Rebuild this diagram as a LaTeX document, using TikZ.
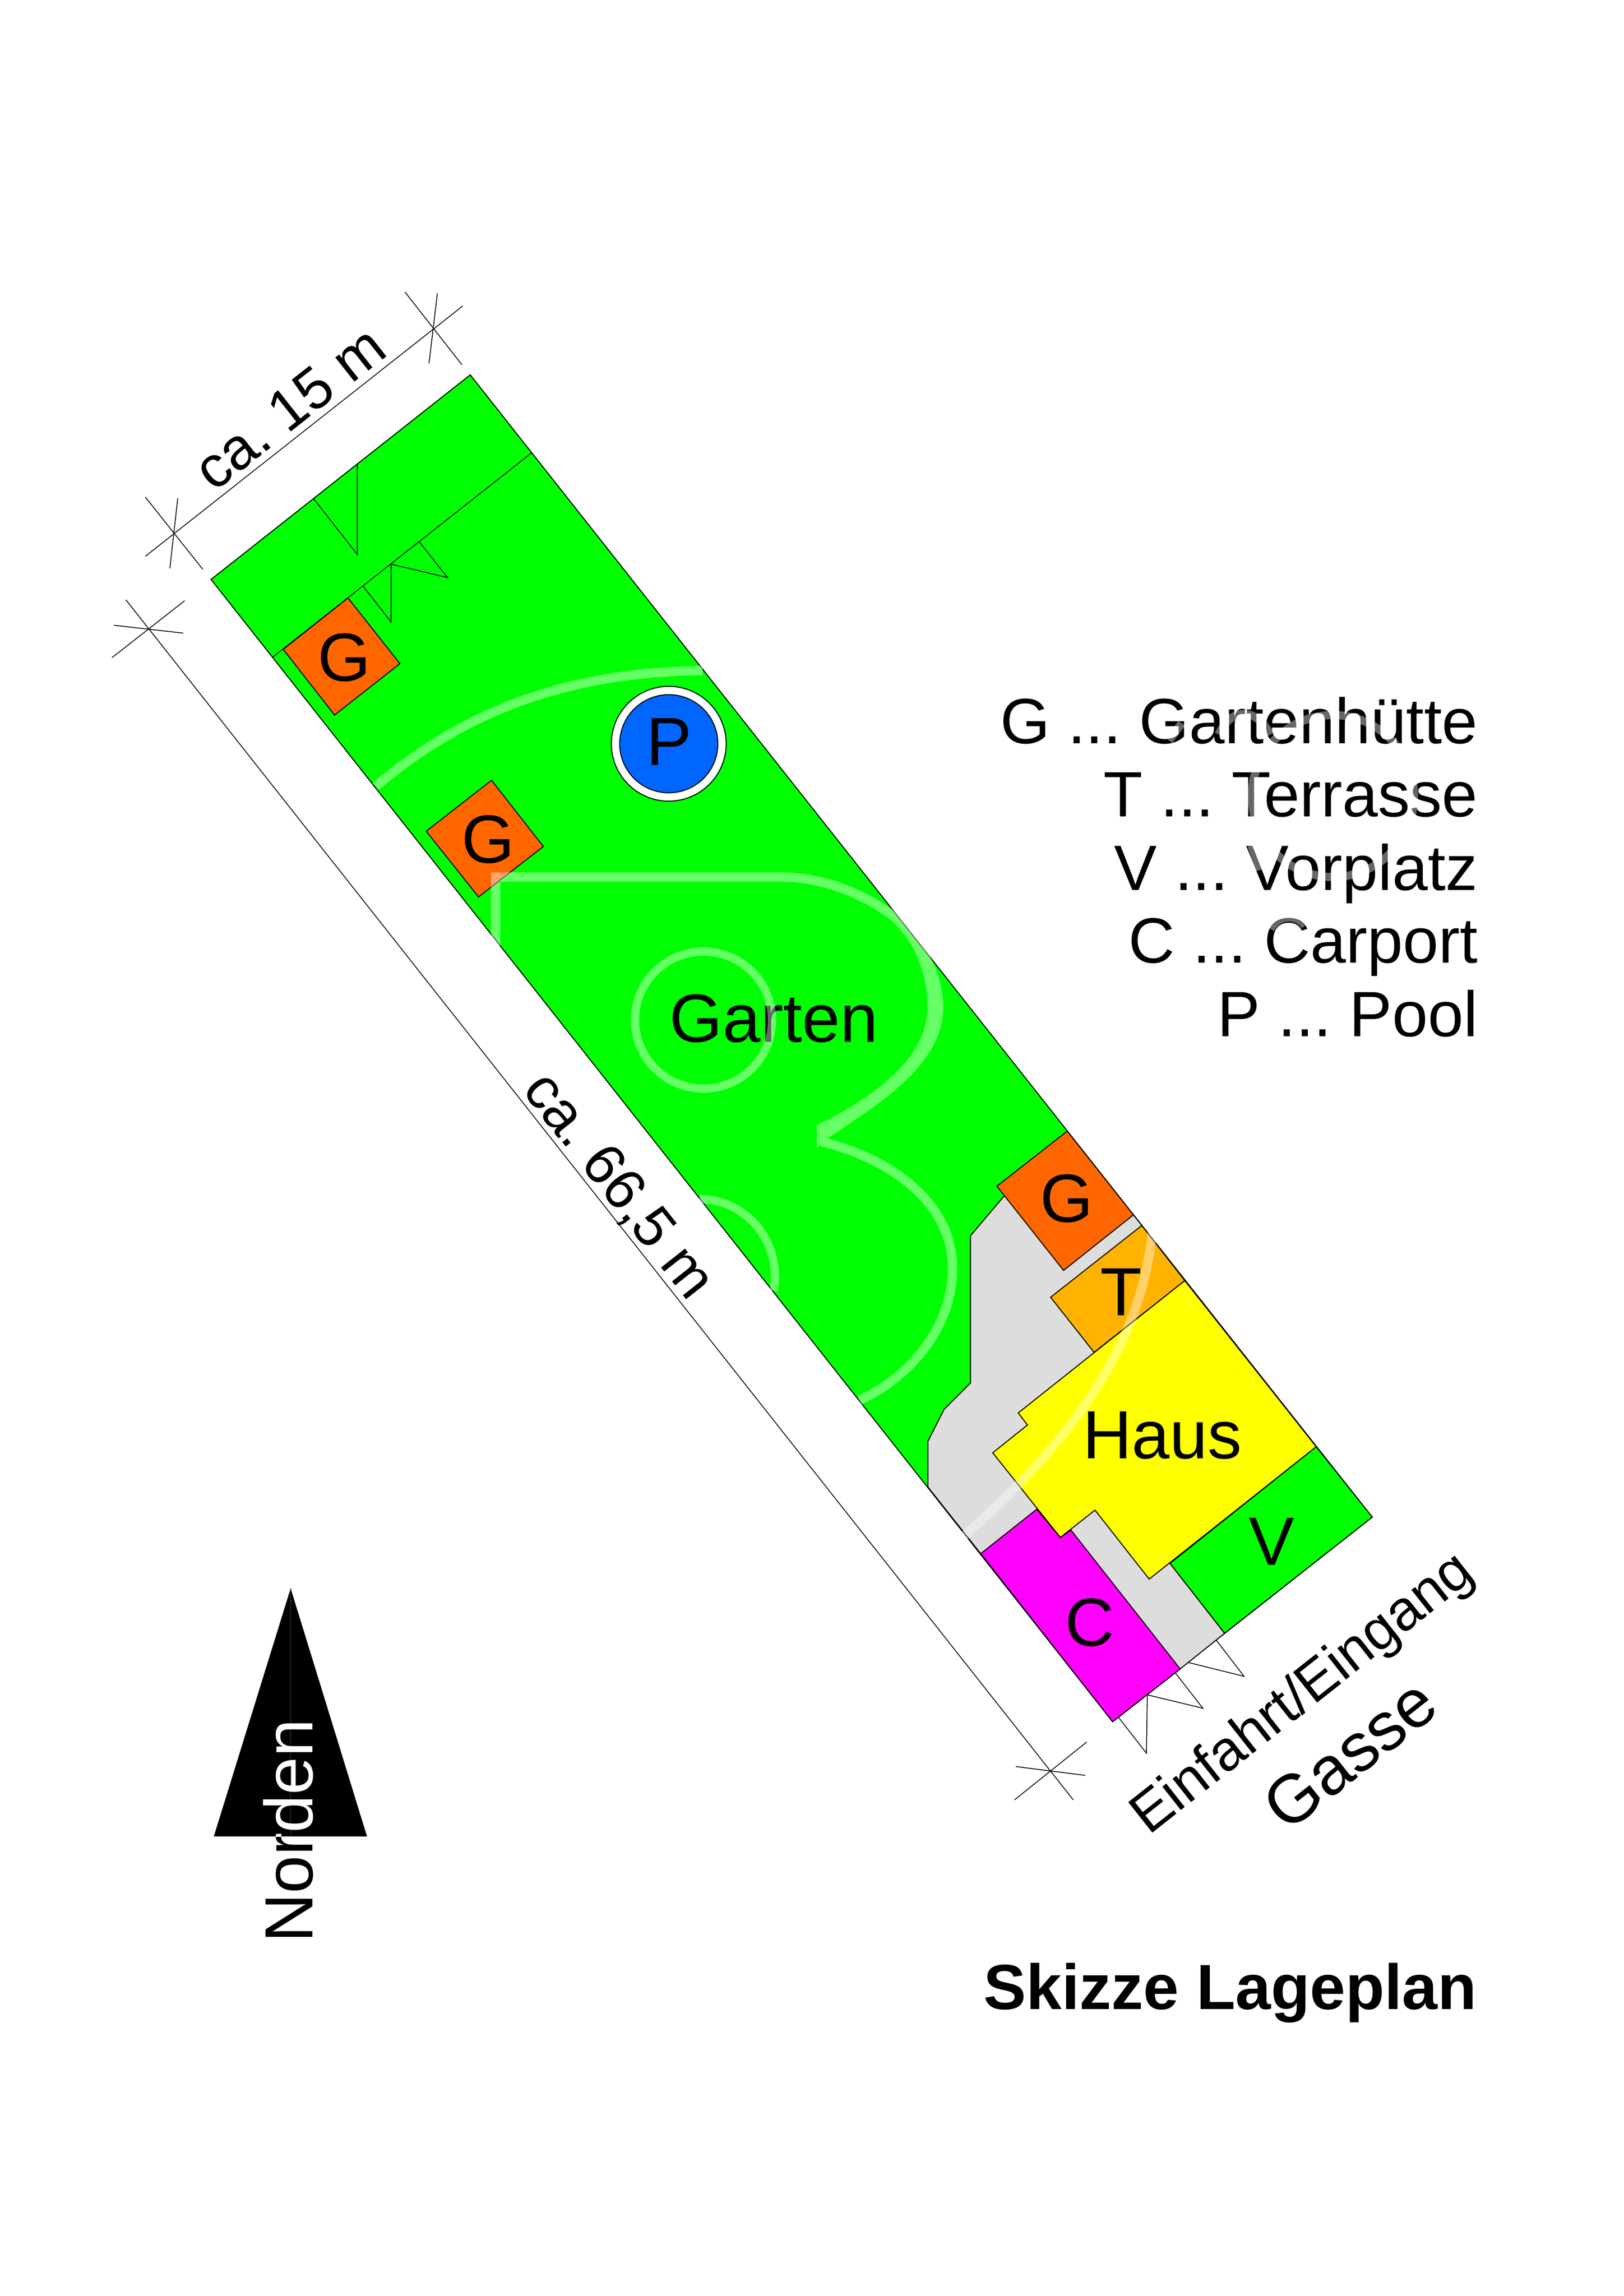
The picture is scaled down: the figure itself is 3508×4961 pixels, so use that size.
\documentclass[tikz,border=0pt]{standalone}
\usepackage{fontspec}
\setmainfont{Liberation Sans}
\frenchspacing
\definecolor{lawn}{RGB}{0,255,0}
\definecolor{hut}{RGB}{255,102,0}
\definecolor{terr}{RGB}{255,179,0}
\definecolor{carp}{RGB}{255,0,255}
\definecolor{pool}{RGB}{0,102,255}
\definecolor{paved}{RGB}{221,221,221}
\definecolor{house}{RGB}{255,255,0}
\tikzset{
  area/.style={draw=black,line width=0.36pt,line join=miter,fill=#1},
  thin line/.style={draw=black,line width=0.3pt},
  lbl/.style={inner sep=0pt,font=\fontsize{25pt}{28pt}\selectfont},
  legend/.style={inner sep=0pt,anchor=base east,font=\fontsize{23.5pt}{28pt}\selectfont},
  wm/.style={draw=white,line width=3.4pt,line join=miter,line cap=butt}
}
\begin{document}
\begin{tikzpicture}[x=0.16969pt,y=-0.16969pt]
\useasboundingbox (0,0) rectangle (3508,4961);
% plot
\path[area=lawn] (1016,810) -- (2965,3278) -- (2404,3720) -- (456,1252) -- cycle;
\path[area=paved] (2169,2585) -- (2097,2670) -- (2097,2988) -- (2040,3045) -- (2005,3114) -- (2005,3213) -- (2119,3357) -- (2404,3720) -- (2550,3606) -- (2646,3529) -- (2528,3378) -- (2844,3126) -- (2560,2767) -- (2449,2625) -- cycle;
\draw[thin line] (1148,979) -- (589,1420);
\draw[thin line] (678,1078) -- (772,1198) -- (772,1002);
\draw[thin line] (784,1266) -- (845,1344) -- (845,1219) -- (967,1248) -- (906,1171);
% gates
\draw[thin line] (2628,3544) -- (2688,3622) -- (2567,3592);
\draw[thin line] (2539,3614) -- (2599,3691) -- (2479,3662) -- (2477,3788) -- (2417,3711);
% areas
\path[area=hut] (752,1292) -- (864,1434) -- (723,1545) -- (612,1403) -- cycle;
\path[area=hut] (1062,1686) -- (1174,1829) -- (1034,1938) -- (921,1796) -- cycle;
\path[area=hut] (2306,2444) -- (2449,2625) -- (2298,2745) -- (2154,2563) -- cycle;
\path[area=terr] (2467,2648) -- (2560,2767) -- (2364,2922) -- (2270,2803) -- cycle;
\path[area=carp] (2240,3261) -- (2291,3322) -- (2314,3306) -- (2550,3606) -- (2404,3720) -- (2119,3357) -- cycle;
\path[area=house] (2560,2767) -- (2844,3126) -- (2483,3412) -- (2366,3263) -- (2291,3322) -- (2145,3139) -- (2220,3079) -- (2200,3053) -- cycle;
\path[area=lawn] (2844,3126) -- (2965,3278) -- (2646,3529) -- (2528,3378) -- cycle;
% pool
\path[area=white] (1445,1607) circle (124);
\path[area=pool] (1445,1607) circle (106);
% dimension lines
\draw[thin line] (1000,661) -- (314,1202);
\draw[thin line] (875,631) -- (998,788);
\draw[thin line] (945,634) -- (927,785);
\draw[thin line] (314,1074) -- (438,1230);
\draw[thin line] (384,1077) -- (367,1228);
\draw[thin line] (272,1296) -- (2319,3889);
\draw[thin line] (399,1298) -- (242,1421);
\draw[thin line] (246,1351) -- (396,1368);
\draw[thin line] (2192,3889) -- (2348,3764);
\draw[thin line] (2195,3817) -- (2345,3836);
% texts in the plan
\node[lbl] (g1) at (744,1421) {G};
\node[lbl] (g2) at (1055,1814) {G};
\node[lbl] (p) at (1446,1603) {P};
\node[lbl] (garten) at (1672,2201) {Garten};
\node[lbl] (g3) at (2305,2590) {G};
\node[lbl] (t) at (2422,2792) {T};
\node[lbl] (haus) at (2511,3102) {Haus};
\node[lbl] (v) at (2748,3331) {V};
\node[lbl] (c) at (2355,3506) {C};
\node[lbl,anchor=base,rotate=38.3,font=\fontsize{21.4pt}{26pt}\selectfont] (w) at (652,915) {ca. 15 m};
\node[lbl,anchor=base,rotate=-51.7,font=\fontsize{21.2pt}{26pt}\selectfont] (l) at (1307,2585) {ca. 66,5 m};
\node[lbl,anchor=base,rotate=38.3,font=\fontsize{20.7pt}{26pt}\selectfont] (e) at (2836,3687) {Einfahrt/Eingang};
\node[lbl,rotate=38.3,font=\fontsize{25pt}{32pt}\selectfont] (ga) at (2916,3790) {Gasse};
% legend
\node[legend] (l1) at (3194,1606) {G ... Gartenhütte};
\node[legend] (l2) at (3194,1764) {T ... Terrasse};
\node[legend] (l3) at (3194,1923) {V ... Vorplatz};
\node[legend] (l4) at (3194,2080) {C ... Carport};
\node[legend] (l5) at (3194,2239) {P ... Pool};
\node[legend,font=\bfseries\fontsize{23.4pt}{28pt}\selectfont] (title) at (3192,4341) {Skizze Lageplan};
% north arrow
\fill[black] (628,3432) -- (793,3968) -- (462,3968) -- cycle;
\draw[black!85,line width=0.2pt] (628,3432) -- (628,3968);
\node[lbl,anchor=base west,rotate=90,font=\fontsize{25pt}{28pt}\selectfont] (n1) at (675,4199) {Norden};
\begin{scope}
\clip (628,3432) -- (793,3968) -- (462,3968) -- cycle;
\node[lbl,anchor=base west,rotate=90,text=white,font=\fontsize{25pt}{28pt}\selectfont] (n2) at (675,4199) {Norden};
\end{scope}
% watermark
\begin{scope}[transparency group,opacity=.4]
\draw[wm] (812,1699) .. controls (1000,1540) and (1220,1452) .. (1518,1449);
\draw[wm] (1071,2043) -- (1071,1895) -- (1687,1895) .. controls (1770,1895) and (1855,1925) .. (1925,1975);
\fill[white] (1931,1967) .. controls (1995,2025) and (2038,2100) .. (2038,2177) .. controls (2038,2300) and (1900,2385) .. (1790,2458) -- (1765,2480) -- (1765,2431) .. controls (1880,2375) and (2004,2290) .. (2004,2177) .. controls (2004,2100) and (1975,2030) .. (1919,1983) -- cycle;
\draw[wm] (1768,2465) .. controls (1900,2495) and (2058,2585) .. (2058,2740) .. controls (2058,2880) and (1950,2985) .. (1857,3025);
\draw[wm,line width=3pt] (1520,2204) circle (148);
\draw[wm,line width=3pt] (1512,2591) .. controls (1600,2590) and (1690,2670) .. (1672,2789);
\draw[wm] (2492,2640) .. controls (2475,2850) and (2380,3060) .. (2070,3330);
\draw[wm,line width=3pt] (2880,1720) circle (175);
\draw[wm,line width=3pt] (2633,1587) .. controls (2660,1530) and (2710,1525) .. (2745,1587);
\draw[wm,line width=3pt] (2526,1600) -- (2553,1563);
\draw[wm,line width=3pt] (2704,1827) -- (2722,1880);
\draw[wm,line width=3pt] (2745,2007) .. controls (2765,1975) and (2800,1975) .. (2820,2000);
\end{scope}
\end{tikzpicture}
\end{document}
